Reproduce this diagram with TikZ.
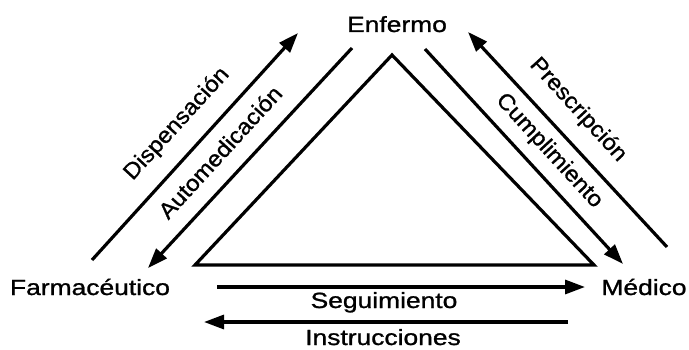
\documentclass[tikz,border=0pt]{standalone}
\usepackage{fontspec}
\setmainfont{Liberation Sans}
\newfontfamily\diagfont{Liberation Sans}[FakeBold=1]
\usetikzlibrary{arrows.meta}
\newcommand{\wide}[2][1.2]{\scalebox{#1}[1]{#2}}

\begin{document}
\begin{tikzpicture}[x=0.5pt, y=0.5pt,
    edge/.style={line width=1.6pt},
    arr/.style={line width=1.6pt, -{Triangle[length=10pt,width=7pt]}},
    lbl/.style={font=\diagfont\fontsize{11}{13}\selectfont, inner sep=0pt},
    slbl/.style={font=\diagfont\fontsize{11.2}{13}\selectfont, inner sep=0pt}]
    \useasboundingbox (0,0) rectangle (689,349);

    % Actors
    \node[lbl, anchor=base] (enf) at (397,317) {\wide{Enfermo}};
    \node[lbl, anchor=base] (farm) at (90,54) {\wide{Farmacéutico}};
    \node[lbl, anchor=base] (med) at (644,54) {\wide{Médico}};

    % Triangle
    \coordinate (top) at (392,294);
    \coordinate (left) at (195,84);
    \coordinate (right) at (594,84);
    \draw[edge, line join=miter] (top) -- (left) -- (right) -- cycle;

    % Arrow ends
    \coordinate (dis1) at (92,89);   \coordinate (dis2) at (298,316);
    \coordinate (aut1) at (352,301); \coordinate (aut2) at (148,81);
    \coordinate (cum1) at (425,300); \coordinate (cum2) at (623,85);
    \coordinate (pre1) at (667,102); \coordinate (pre2) at (468,317);
    \coordinate (seg1) at (217,62);  \coordinate (seg2) at (585,62);
    \coordinate (ins1) at (568,27);  \coordinate (ins2) at (204,27);

    % Flows
    \draw[arr] (dis1) -- (dis2);
    \draw[arr] (aut1) -- (aut2);
    \draw[arr] (cum1) -- (cum2);
    \draw[arr] (pre1) -- (pre2);
    \draw[arr] (seg1) -- (seg2);
    \draw[arr] (ins1) -- (ins2);

    % Labels
    \node[slbl, rotate=47.5] (disl) at (177,225) {\wide[1.07]{Dispensación}};
    \node[slbl, rotate=47.5] (autl) at (220,197) {\wide[1.07]{Automedicación}};
    \node[slbl, rotate=-47.5] (prel) at (578,239) {\wide[1.07]{Prescripción}};
    \node[slbl, rotate=-47.5] (cuml) at (549,198) {\wide[1.07]{Cumplimiento}};
    \node[lbl, anchor=base] (segl) at (384,41) {\wide{Seguimiento}};
    \node[lbl, anchor=base] (insl) at (383,4) {\wide{Instrucciones}};
\end{tikzpicture}
\end{document}
